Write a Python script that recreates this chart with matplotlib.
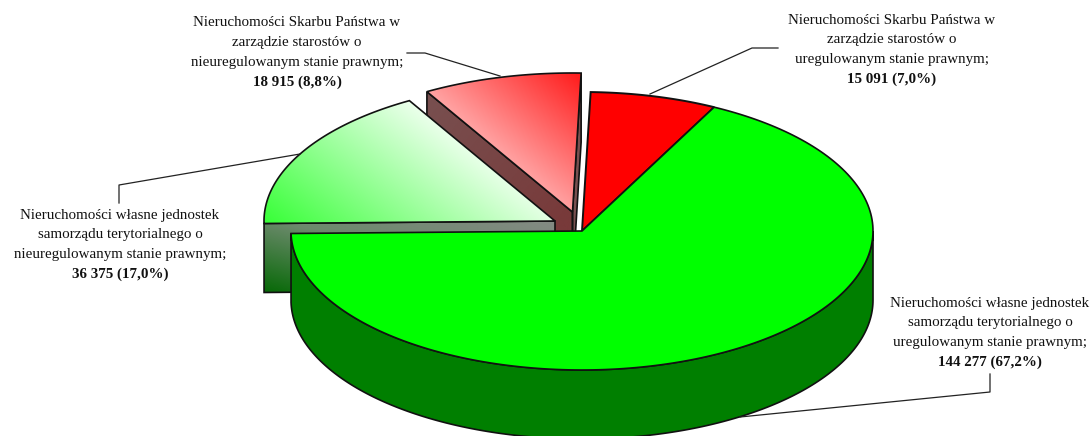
import numpy as np
import matplotlib
matplotlib.use('Agg')
from matplotlib import pyplot as plt
from matplotlib.colors import LinearSegmentedColormap
from matplotlib.patches import Polygon

# slices, clockwise from the top
names = [
    'Nieruchomości Skarbu Państwa w\nzarządzie starostów o\nuregulowanym stanie prawnym;',
    'Nieruchomości własne jednostek\nsamorządu terytorialnego o\nuregulowanym stanie prawnym;',
    'Nieruchomości własne jednostek\nsamorządu terytorialnego o\nnieuregulowanym stanie prawnym;',
    'Nieruchomości Skarbu Państwa w\nzarządzie starostów o\nnieuregulowanym stanie prawnym;',
]
values = [15091, 144277, 36375, 18915]
percents = [7.0, 67.2, 17.0, 8.8]

# pie layout in pixels
cx, cy = 582, 231
rx, ry = 291, 139
depth = 69
start = 1.7
offsets = [(0, 0), (0, 0), (-27, -10), (-9.5, -19)]

label_pos = [(892, 20), (990, 303), (120, 215), (297, 23)]
leaders = [
    [(650, 94), (752, 48), (778, 48)],
    [(740, 417), (990, 392), (990, 374)],
    [(300, 154), (119, 185), (119, 203)],
    [(500, 76), (425, 53), (407, 53)],
]

fractions = np.array(values) / sum(values)
edges = start + np.concatenate([[0], np.cumsum(fractions)]) * 360


def arc(t1, t2, off=(0, 0), dy=0):
    t = np.radians(np.linspace(t1, t2, 200))
    return np.column_stack([cx + off[0] + rx * np.sin(t),
                            cy + off[1] + dy - ry * np.cos(t)])


def wedge(i):
    apex = np.array([[cx + offsets[i][0], cy + offsets[i][1]]])
    return np.vstack([apex, arc(edges[i], edges[i + 1], offsets[i])])


def face(p1, p2):
    # flat cut face below a radial edge
    return np.array([p1, p2, (p2[0], p2[1] + depth), (p1[0], p1[1] + depth)])


def gradient(ax, pts, colors, origin, direction, length, z):
    x0, y0 = pts.min(axis=0)
    x1, y1 = pts.max(axis=0)
    xx, yy = np.meshgrid(np.linspace(x0, x1, 300), np.linspace(y0, y1, 300))
    t = ((xx - origin[0]) * direction[0] + (yy - origin[1]) * direction[1]) / length
    cmap = LinearSegmentedColormap.from_list('g', colors)
    im = ax.imshow(np.clip(t, 0, 1), cmap=cmap, vmin=0, vmax=1, extent=(x0, x1, y1, y0),
                   aspect='auto', zorder=z, interpolation='bilinear')
    outline = Polygon(pts, closed=True, fc='none', ec='#111111', lw=1.2, zorder=z + 0.1)
    ax.add_patch(outline)
    im.set_clip_path(outline)


fig = plt.figure(figsize=(10.91, 4.36), dpi=100)
ax = fig.add_axes([0, 0, 1, 1])

# light red slice: both cut faces
lr = wedge(3)
lr_apex, lr_left, lr_right = lr[0], lr[1], lr[-1]
gradient(ax, face(lr_apex, lr_left), ['#785050', '#783a3a'], lr_left, (0.77, 0.64), 190, 1)
gradient(ax, face(lr_apex, lr_right), ['#785050', '#785050'], lr_right, (0, 1), 100, 1)

# light green slice
lg = wedge(2)
lg_apex, lg_left, lg_right = lg[0], lg[1], lg[-1]
gradient(ax, face(lg_left, lg_apex), ['#848a84', '#6c8a6c', '#0a6a0a'],
         lg_apex, (-0.25, 0.97), 140, 2)
gradient(ax, lg, ['#ecffec', '#33ff33'], lg_right, (-0.6, 0.8), 190, 3)

# light red top
gradient(ax, lr, ['#ff1a1a', '#ffa8a8'], lr_right, (-0.65, 0.76), 118, 4)

# red slice
ax.add_patch(Polygon(wedge(0), closed=True, fc='#ff0000', ec='#111111', lw=1.4, zorder=5))

# main green slice with its rim
rim = np.vstack([arc(90, edges[2]), arc(90, edges[2], dy=depth)[::-1]])
ax.add_patch(Polygon(rim, closed=True, fc='#007f00', ec='#111111', lw=1.2, zorder=6))
ax.add_patch(Polygon(wedge(1), closed=True, fc='#00ff00', ec='#111111', lw=1.2, zorder=7))

# leader lines
for line in leaders:
    xs, ys = zip(*line)
    ax.plot(xs, ys, color='#222222', lw=0.9, zorder=8)

# labels
font = ['Liberation Serif', 'DejaVu Serif']
for name, val, pct, (x, y) in zip(names, values, percents, label_pos):
    lines = name.split('\n')
    for k, line in enumerate(lines):
        ax.text(x, y + k * 19.6, line, ha='center', va='center', fontsize=10.8,
                family=font, color='#111111', zorder=9)
    num = f'{val:,}'.replace(',', ' ') + ' (' + f'{pct:.1f}'.replace('.', ',') + '%)'
    ax.text(x, y + 3 * 19.6, num, ha='center', va='center', fontsize=10.8,
            family=font, weight='bold', color='#111111', zorder=9)

ax.set_xlim(0, 1091)
ax.set_ylim(436, 0)
ax.axis('off')
fig.savefig('out.png', dpi=100)
